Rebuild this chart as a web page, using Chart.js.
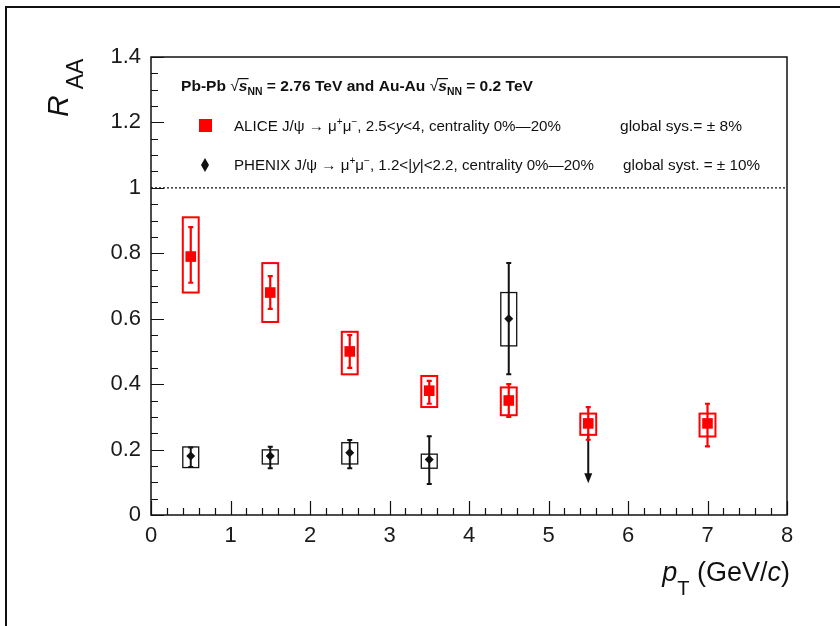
<!DOCTYPE html>
<html>
<head>
<meta charset="utf-8">
<script src="https://cdn.jsdelivr.net/npm/chart.js@4.4.1/dist/chart.umd.min.js"></script>
<style>
  html, body { margin: 0; padding: 0; background: #fff; overflow: hidden; }
  #wrap { position: relative; width: 840px; height: 626px; }
  #frame { position: absolute; left: 5px; top: 6px; width: 900px; height: 700px;
           border-left: 2px solid #111; border-top: 2px solid #111; }
  canvas { position: absolute; left: 0; top: 0; }
</style>
</head>
<body>
<div id="wrap">
  <div id="frame"></div>
  <canvas id="raaChart" width="840" height="626"></canvas>
</div>
<script>
// ALICE J/psi RAA (red)
const aliceX      = [0.5, 1.5, 2.5, 3.5, 4.5, 5.5, 7];
const aliceY      = [0.79, 0.68, 0.50, 0.38, 0.35, 0.28, 0.28];
const aliceStatLo = [0.71, 0.63, 0.45, 0.34, 0.30, 0.23, 0.21];
const aliceStatHi = [0.88, 0.73, 0.55, 0.41, 0.40, 0.33, 0.34];
const aliceSysLo  = [0.68, 0.59, 0.43, 0.33, 0.305, 0.245, 0.24];
const aliceSysHi  = [0.91, 0.77, 0.56, 0.425, 0.39, 0.31, 0.31];

// PHENIX J/psi RAA (black)
const phenixX      = [0.5, 1.5, 2.5, 3.5, 4.5];
const phenixY      = [0.18, 0.18, 0.19, 0.17, 0.60];
const phenixStatLo = [0.147, 0.143, 0.143, 0.095, 0.43];
const phenixStatHi = [0.206, 0.209, 0.229, 0.241, 0.77];
const phenixSysLo  = [0.145, 0.156, 0.156, 0.143, 0.517];
const phenixSysHi  = [0.208, 0.199, 0.221, 0.186, 0.68];
// PHENIX upper limit
const phenixLimitX = [5.5];
const phenixLimitY = [0.25];

const xTicks = { min: 0, max: 8, step: 1, minor: 0.2 };
const yTicks = { min: 0, max: 1.4, step: 0.2, minor: 0.05 };
const unityLine = 1;

const RED = '#ff0000';
const BLACK = '#111111';
const BOX_HALF = 0.1;   // half width of systematic boxes, in pT units

function pts(xs, ys) { return xs.map((x, i) => ({ x: x, y: ys[i] })); }

// draws a list of [text, font, dy, overline] pieces, optionally squeezed to width
function richText(ctx, segs, x, y, width) {
  let total = 0;
  segs.forEach(s => { ctx.font = s[1]; total += ctx.measureText(s[0]).width; });
  const k = width ? width / total : 1;
  ctx.save();
  ctx.translate(x, y);
  ctx.scale(k, 1);
  let cx = 0;
  segs.forEach(s => {
    ctx.font = s[1];
    const w = ctx.measureText(s[0]).width;
    ctx.fillText(s[0], cx, s[2] || 0);
    if (s[3]) {
      ctx.fillRect(cx - 1, -13, w + 2, 1.2);
    }
    cx += w;
  });
  ctx.restore();
  return total * k;
}

const errorPlugin = {
  id: 'errors',
  beforeDatasetsDraw(chart) {
    const { ctx, scales: { x, y } } = chart;
    const drawSet = (xs, ys, lo, hi, slo, shi, color, boxW, barW) => {
      ctx.save();
      ctx.strokeStyle = color;
      xs.forEach((v, i) => {
        const px = x.getPixelForValue(v);
        const l = x.getPixelForValue(v - BOX_HALF);
        const r = x.getPixelForValue(v + BOX_HALF);
        const t = y.getPixelForValue(shi[i]);
        const b = y.getPixelForValue(slo[i]);
        ctx.lineWidth = boxW;
        ctx.strokeRect(l, t, r - l, b - t);
        const et = y.getPixelForValue(hi[i]);
        const eb = y.getPixelForValue(lo[i]);
        ctx.lineWidth = barW;
        ctx.beginPath();
        ctx.moveTo(px, et); ctx.lineTo(px, eb);
        ctx.moveTo(px - 2.5, et); ctx.lineTo(px + 2.5, et);
        ctx.moveTo(px - 2.5, eb); ctx.lineTo(px + 2.5, eb);
        ctx.stroke();
      });
      ctx.restore();
    };
    drawSet(phenixX, phenixY, phenixStatLo, phenixStatHi, phenixSysLo, phenixSysHi, BLACK, 1.3, 2);

    // upper limit arrow
    ctx.save();
    ctx.strokeStyle = BLACK;
    ctx.fillStyle = BLACK;
    ctx.lineWidth = 2;
    phenixLimitX.forEach((v, i) => {
      const px = x.getPixelForValue(v);
      const top = y.getPixelForValue(phenixLimitY[i]);
      const tip = top + 50;
      ctx.beginPath();
      ctx.moveTo(px, top); ctx.lineTo(px, tip - 8);
      ctx.stroke();
      ctx.beginPath();
      ctx.moveTo(px - 4, tip - 10); ctx.lineTo(px + 4, tip - 10); ctx.lineTo(px, tip);
      ctx.closePath();
      ctx.fill();
    });
    ctx.restore();

    drawSet(aliceX, aliceY, aliceStatLo, aliceStatHi, aliceSysLo, aliceSysHi, RED, 2, 2.2);
  },
  afterDraw(chart) {
    const { ctx, chartArea: a, scales: { x, y } } = chart;
    ctx.save();
    // frame
    ctx.strokeStyle = BLACK;
    ctx.lineWidth = 1.5;
    ctx.strokeRect(a.left, a.top, a.right - a.left, a.bottom - a.top);

    // inside ticks
    ctx.lineWidth = 1.2;
    ctx.beginPath();
    const nY = Math.round((yTicks.max - yTicks.min) / yTicks.minor);
    for (let i = 0; i <= nY; i++) {
      const v = yTicks.min + i * yTicks.minor;
      const py = Math.round(y.getPixelForValue(v)) + 0.5;
      const len = (i % Math.round(yTicks.step / yTicks.minor) === 0) ? 13 : 7;
      ctx.moveTo(a.left, py); ctx.lineTo(a.left + len, py);
    }
    const nX = Math.round((xTicks.max - xTicks.min) / xTicks.minor);
    for (let i = 0; i <= nX; i++) {
      const v = xTicks.min + i * xTicks.minor;
      const px = Math.round(x.getPixelForValue(v)) + 0.5;
      const len = (i % Math.round(xTicks.step / xTicks.minor) === 0) ? 14 : 7;
      ctx.moveTo(px, a.bottom); ctx.lineTo(px, a.bottom - len);
    }
    ctx.stroke();

    // R_AA = 1 reference
    ctx.setLineDash([2, 2]);
    ctx.lineWidth = 1.2;
    const p1 = y.getPixelForValue(unityLine);
    ctx.beginPath();
    ctx.moveTo(a.left, p1); ctx.lineTo(a.right, p1);
    ctx.stroke();
    ctx.setLineDash([]);

    // axis titles
    ctx.fillStyle = BLACK;
    ctx.textBaseline = 'alphabetic';
    ctx.save();
    ctx.translate(68, 117);
    ctx.rotate(-Math.PI / 2);
    ctx.font = 'italic 30px "Liberation Sans"';
    const rw = ctx.measureText('R').width;
    ctx.fillText('R', 0, 0);
    ctx.font = '23px "Liberation Sans"';
    ctx.fillText('AA', rw + 6, 15);
    ctx.restore();

    const xt = [['p', 'italic 27px "Liberation Sans"', 0], ['T', '20px "Liberation Sans"', 14],
                [' (GeV/', '27px "Liberation Sans"', 0], ['c', 'italic 27px "Liberation Sans"', 0],
                [')', '27px "Liberation Sans"', 0]];
    let tw = 0;
    xt.forEach(s => { ctx.font = s[1]; tw += ctx.measureText(s[0]).width; });
    richText(ctx, xt, 790 - tw, 581);

    // legend block
    const B = 'bold 15px "Liberation Sans"';
    const BI = 'bold italic 15px "Liberation Sans"';
    const BS = 'bold 10px "Liberation Sans"';
    const N = '15px "Liberation Sans"';
    const NI = 'italic 15px "Liberation Sans"';
    const SUP = '10px "Liberation Sans"';
    richText(ctx, [['Pb-Pb ', B], ['\u221A', N], ['s', BI, 0, true], ['NN', BS, 4],
                   [' = 2.76 TeV and Au-Au ', B], ['\u221A', N], ['s', BI, 0, true], ['NN', BS, 4],
                   [' = 0.2 TeV', B]], 181, 91, 352);

    richText(ctx, [['ALICE J/\u03C8 \u2192 \u03BC', N], ['+', SUP, -6], ['\u03BC', N], ['\u2212', SUP, -6],
                   [', 2.5<', N], ['y', NI], ['<4, centrality 0%\u201420%', N]], 234, 131, 327);
    richText(ctx, [['global sys.= \u00B1 8%', N]], 620, 131, 122);

    richText(ctx, [['PHENIX J/\u03C8 \u2192 \u03BC', N], ['+', SUP, -6], ['\u03BC', N], ['\u2212', SUP, -6],
                   [', 1.2<|', N], ['y', NI], ['|<2.2, centrality 0%\u201420%', N]], 234, 170, 360);
    richText(ctx, [['global syst. = \u00B1 10%', N]], 623, 170, 137);

    // legend markers
    ctx.fillStyle = RED;
    ctx.fillRect(199, 119, 13, 13);
    ctx.fillStyle = BLACK;
    ctx.beginPath();
    ctx.moveTo(205, 158); ctx.lineTo(209, 165); ctx.lineTo(205, 172); ctx.lineTo(201, 165);
    ctx.closePath();
    ctx.fill();
    ctx.restore();
  }
};

const tickFont = { family: '"Liberation Sans", Arial, sans-serif', size: 22 };

new Chart(document.getElementById('raaChart'), {
  type: 'scatter',
  data: {
    datasets: [
      {
        label: 'ALICE',
        data: pts(aliceX, aliceY),
        pointStyle: 'rect',
        pointRadius: 7.5,
        backgroundColor: RED,
        borderColor: RED,
        borderWidth: 0
      },
      {
        label: 'PHENIX',
        data: pts(phenixX, phenixY),
        pointStyle: 'rectRot',
        pointRadius: 4.5,
        backgroundColor: BLACK,
        borderColor: BLACK,
        borderWidth: 0
      }
    ]
  },
  options: {
    responsive: false,
    devicePixelRatio: 1,
    animation: false,
    layout: { padding: { left: 0, top: 57, right: 53, bottom: 0 } },
    plugins: { legend: { display: false }, tooltip: { enabled: false } },
    scales: {
      x: {
        type: 'linear',
        min: xTicks.min, max: xTicks.max,
        grid: { display: false, drawTicks: false },
        border: { display: false },
        ticks: {
          stepSize: xTicks.step, padding: 8, color: '#1a1a1a', font: tickFont,
          maxRotation: 0,
          callback: v => String(+v.toFixed(2))
        },
        afterFit: s => { s.height = 111; }
      },
      y: {
        type: 'linear',
        min: yTicks.min, max: yTicks.max,
        grid: { display: false, drawTicks: false },
        border: { display: false },
        ticks: {
          stepSize: yTicks.step, padding: 10, color: '#1a1a1a', font: tickFont,
          callback: v => String(+v.toFixed(2))
        },
        afterFit: s => { s.width = 151; }
      }
    }
  },
  plugins: [errorPlugin]
});
</script>
</body>
</html>
